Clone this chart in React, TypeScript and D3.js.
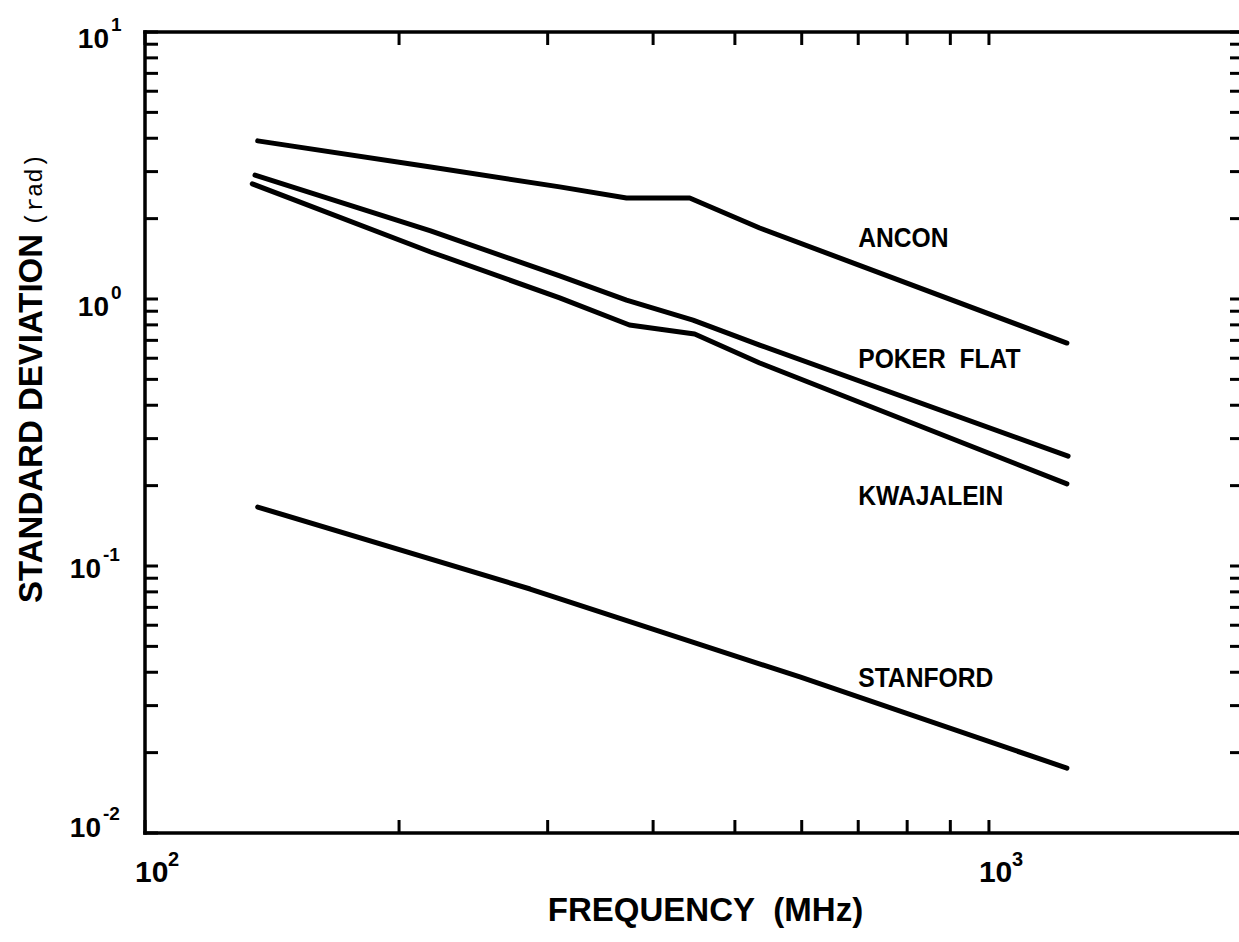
import React from "react";
import * as d3 from "d3";

// ---- data ----
const xDomain = [100, 2000];
const yDomain = [0.01, 10];

const ancon: [number, number][] = [
  [136, 3.91], [218, 3.12], [310, 2.63], [372, 2.39], [442, 2.39], [535, 1.845], [1237, 0.684],
];
const pokerFlat: [number, number][] = [
  [135, 2.91], [218, 1.8], [310, 1.22], [372, 0.99], [446, 0.834], [535, 0.672], [1241, 0.258],
];
const kwajalein: [number, number][] = [
  [134, 2.7], [218, 1.5], [310, 1.01], [375, 0.799], [448, 0.739], [535, 0.576], [1237, 0.203],
];
const stanford: [number, number][] = [
  [136, 0.1663], [286, 0.082], [597, 0.0384], [1237, 0.0175],
];

const seriesNames = ["ANCON", "POKER\u00A0\u00A0FLAT", "KWAJALEIN", "STANFORD"];
const seriesData = [ancon, pokerFlat, kwajalein, stanford];
const labelFreq = [700, 700, 700, 700];
const labelValue = [1.57, 0.552, 0.169, 0.0352];

const xMajor = [100, 1000];
const xMajorExp = ["2", "3"];
const yMajor = [10, 1, 0.1, 0.01];
const yMajorExp = ["1", "0", "-1", "-2"];

const xTitle = "FREQUENCY\u00A0\u00A0(MHz)";
const yTitle = "STANDARD DEVIATION";
const yUnit = "(rad)";

// ---- layout ----
const W = 1239;
const H = 942;
const L = 145, R = 1243, T = 32, B = 833;
const SANS = "'Liberation Sans', Arial, Helvetica, sans-serif";

export default function App() {
  const x = d3.scaleLog().domain(xDomain).range([L, R]);
  const y = d3.scaleLog().domain(yDomain).range([B, T]);

  const xTicks: number[] = [];
  for (let k = 2; k <= 3; k++) {
    for (let m = 1; m <= 9; m++) {
      const v = m * Math.pow(10, k);
      if (v >= xDomain[0] && v <= xDomain[1]) xTicks.push(v);
    }
  }
  xTicks.push(2000);
  const yTicks: number[] = [];
  for (let k = -2; k <= 0; k++) {
    for (let m = 1; m <= 9; m++) yTicks.push(m * Math.pow(10, k));
  }
  yTicks.push(10);

  const line = d3
    .line<[number, number]>()
    .x((d) => x(d[0]))
    .y((d) => y(d[1]));

  const tl = 13;
  const yLabelDy = [16, 17, 12, 4];

  return (
    <svg
      width={W}
      height={H}
      style={{ position: "absolute", left: 0, top: 0, background: "#fff" }}
    >
      <rect x={0} y={0} width={W} height={H} fill="#fff" />
      {/* frame */}
      <g stroke="#000" strokeWidth={3.5} strokeLinecap="square" fill="none">
        <line x1={L} y1={T} x2={R} y2={T} />
        <line x1={L} y1={B} x2={R} y2={B} />
        <line x1={L} y1={T} x2={L} y2={B} />
        <line x1={R} y1={T} x2={R} y2={B} />
      </g>
      {/* ticks */}
      <g stroke="#000" strokeWidth={3}>
        {xTicks.map((v, i) => (
          <g key={"xt" + i}>
            <line x1={x(v)} x2={x(v)} y1={B} y2={B - tl} />
            <line x1={x(v)} x2={x(v)} y1={T} y2={T + tl} />
          </g>
        ))}
        {yTicks.map((v, i) => (
          <g key={"yt" + i}>
            <line x1={L} x2={L + tl} y1={y(v)} y2={y(v)} />
            <line x1={R} x2={R - tl} y1={y(v)} y2={y(v)} />
          </g>
        ))}
      </g>
      {/* y tick labels */}
      <g fontFamily={SANS} fontWeight="bold" fill="#000">
        {yMajor.map((v, i) => {
          const neg = yMajorExp[i].length > 1;
          const baseEnd = neg ? 101 : 109;
          const by = y(v) + yLabelDy[i];
          return (
            <g key={"yl" + i}>
              <text x={baseEnd} y={by} fontSize={28} textAnchor="end">
                10
              </text>
              <text x={baseEnd + 2} y={by - 17} fontSize={19}>
                {yMajorExp[i]}
              </text>
            </g>
          );
        })}
        {xMajor.map((v, i) => (
          <g key={"xl" + i}>
            <text x={x(v) - 10} y={882} fontSize={30}>
              10
            </text>
            <text x={x(v) + 23} y={866} fontSize={20}>
              {xMajorExp[i]}
            </text>
          </g>
        ))}
      </g>
      {/* curves */}
      <g fill="none" stroke="#000" strokeWidth={5} strokeLinecap="round" strokeLinejoin="round">
        {seriesData.map((s, i) => (
          <path key={"s" + i} d={line(s) || ""} />
        ))}
      </g>
      {/* series labels */}
      <g fontFamily={SANS} fontWeight="bold" fill="#000">
        {seriesNames.map((n, i) => {
          const lx = x(labelFreq[i]);
          const ly = y(labelValue[i]);
          return (
            <text
              key={"n" + i}
              x={0}
              y={0}
              fontSize={28}
              transform={`translate(${lx},${ly}) scale(0.88,1)`}
            >
              {n}
            </text>
          );
        })}
      </g>
      {/* axis titles */}
      <text
        x={(549 + 862) / 2}
        y={921}
        textAnchor="middle"
        fontFamily={SANS}
        fontWeight="bold"
        fontSize={33}
      >
        {xTitle}
      </text>
      <g transform="translate(42,603) rotate(-90)">
        <text x={0} y={0} fontFamily={SANS} fontWeight="bold" fontSize={33}>
          {yTitle}
          <tspan dx={8} fontFamily="'Liberation Mono', 'Courier New', monospace" fontWeight="normal" fontSize={24}>
            {yUnit}
          </tspan>
        </text>
      </g>
    </svg>
  );
}
